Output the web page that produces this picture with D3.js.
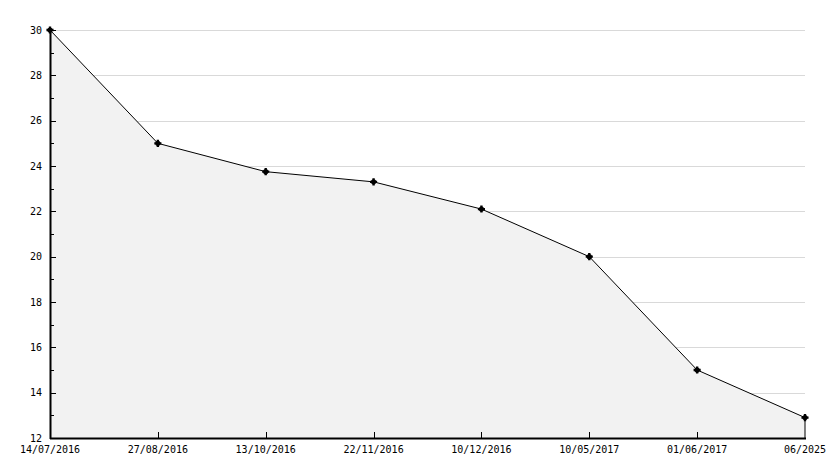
<!DOCTYPE html>
<html><head><meta charset="utf-8">
<script src="https://cdn.jsdelivr.net/npm/d3@7"></script>
<style>body{margin:0;background:#fff}svg{display:block}text{font-family:"DejaVu Sans Mono",monospace;font-size:10px;fill:#000}</style>
</head><body>
<script>
const categories = ["14/07/2016","27/08/2016","13/10/2016","22/11/2016","10/12/2016","10/05/2017","01/06/2017","06/2025"];
const values = [30, 25, 23.75, 23.3, 22.1, 20, 15, 12.9];
const yTicks = [12,14,16,18,20,22,24,26,28,30];
const yMinor = [13,15,17,19,21,23,25,27,29];

(function(){
const W = 834, H = 468;
const mLeft = 50, mRight = 805, mTop = 30, mBottom = 438;
const svg = d3.select("body").append("svg").attr("width", W).attr("height", H);
const x = d3.scalePoint().domain(categories).range([mLeft, mRight]);
const y = d3.scaleLinear().domain([12, 30]).range([mBottom, mTop]);

// grid
svg.append("g").selectAll("line").data(yTicks.filter(t => t > 12)).join("line")
  .attr("x1", mLeft).attr("x2", mRight)
  .attr("y1", d => Math.round(y(d)) + 0.5).attr("y2", d => Math.round(y(d)) + 0.5)
  .attr("stroke", "#d9d9d9").attr("stroke-width", 1);

const data = categories.map((c, i) => ({c, v: values[i]}));
const area = d3.area().x(d => x(d.c)).y0(y(12)).y1(d => y(d.v));
svg.append("path").datum(data).attr("d", area).attr("fill", "#f2f2f2");

const line = d3.line().x(d => x(d.c)).y(d => y(d.v));
svg.append("path").datum(data).attr("d", line).attr("fill", "none").attr("stroke", "#000").attr("stroke-width", 1);

// right edge line
const last = data[data.length - 1];
svg.append("line").attr("x1", x(last.c)).attr("x2", x(last.c)).attr("y1", y(last.v)).attr("y2", y(12)).attr("stroke", "#000");

// axes
svg.append("line").attr("x1", mLeft + 0.5).attr("x2", mLeft + 0.5).attr("y1", mTop).attr("y2", mBottom + 1).attr("stroke", "#000").attr("stroke-width", 2);
svg.append("line").attr("x1", mLeft).attr("x2", mRight + 1).attr("y1", mBottom + 0.5).attr("y2", mBottom + 0.5).attr("stroke", "#000").attr("stroke-width", 2);

const gy = svg.append("g");
gy.selectAll("line.maj").data(yTicks).join("line").attr("class", "maj")
  .attr("x1", mLeft).attr("x2", mLeft + 6).attr("y1", d => Math.round(y(d)) + 0.5).attr("y2", d => Math.round(y(d)) + 0.5).attr("stroke", "#000");
gy.selectAll("line.min").data(yMinor).join("line").attr("class", "min")
  .attr("x1", mLeft).attr("x2", mLeft + 4).attr("y1", d => Math.round(y(d)) + 0.5).attr("y2", d => Math.round(y(d)) + 0.5).attr("stroke", "#000");
gy.selectAll("text").data(yTicks).join("text")
  .attr("x", mLeft - 8).attr("y", d => y(d) + (d === 12 ? 4 : 3.5)).attr("text-anchor", "end").text(d => d);

const gx = svg.append("g");
gx.selectAll("line").data(categories.slice(1, -1)).join("line")
  .attr("x1", d => Math.round(x(d)) + 0.5).attr("x2", d => Math.round(x(d)) + 0.5).attr("y1", mBottom).attr("y2", mBottom - 6).attr("stroke", "#000");
gx.selectAll("text").data(categories).join("text")
  .attr("x", d => x(d)).attr("y", mBottom + 15).attr("text-anchor", "middle").text(d => d);

// markers
const star = d3.symbol().type(d3.symbolCross).size(28);
const g = svg.append("g");
g.selectAll("path.c").data(data).join("path").attr("class", "c")
  .attr("transform", d => `translate(${x(d.c)},${y(d.v)})`).attr("d", star).attr("fill", "#000");
g.selectAll("circle").data(data).join("circle")
  .attr("cx", d => x(d.c)).attr("cy", d => y(d.v)).attr("r", 2.6).attr("fill", "#000");
})();
</script>
</body></html>
